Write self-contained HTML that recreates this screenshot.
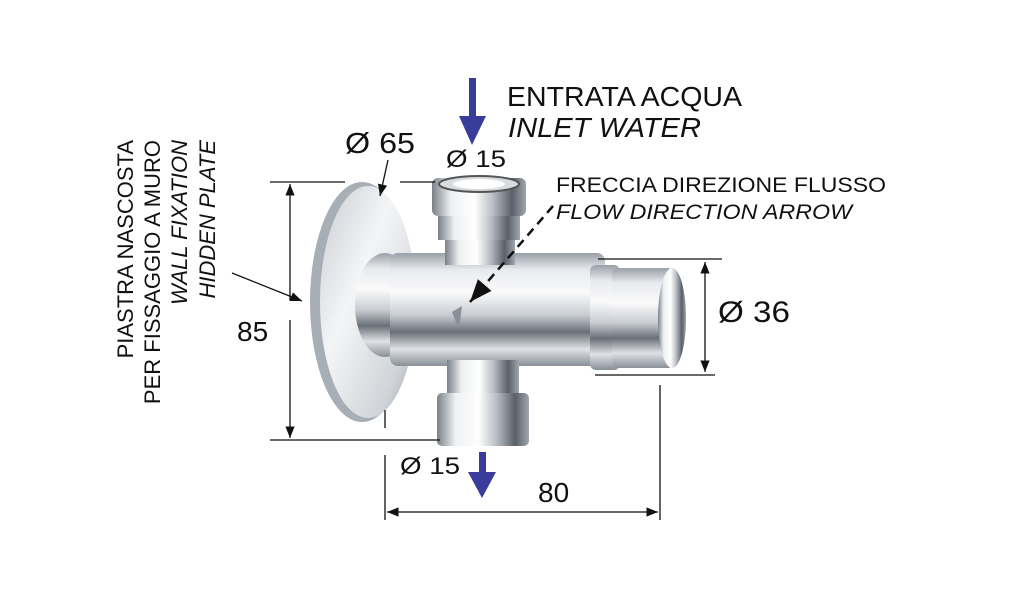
<!DOCTYPE html>
<html><head><meta charset="utf-8"><style>html,body{margin:0;padding:0;background:#fff}svg{display:block}text{font-family:"Liberation Sans",Arial,sans-serif;fill:#111}</style></head>
<body>
<svg width="1014" height="600" viewBox="0 0 1014 600" xmlns="http://www.w3.org/2000/svg">
<defs>
<linearGradient id="gv" x1="0" y1="0" x2="0" y2="1">
<stop offset="0" stop-color="#9aa0a8"/><stop offset=".15" stop-color="#e8eaee"/><stop offset=".35" stop-color="#fafafa"/><stop offset=".55" stop-color="#c8ccd2"/><stop offset=".7" stop-color="#6a7078"/><stop offset=".85" stop-color="#dfe2e6"/><stop offset="1" stop-color="#8a9098"/></linearGradient>
<linearGradient id="gh" x1="0" y1="0" x2="1" y2="0">
<stop offset="0" stop-color="#7a8088"/><stop offset=".2" stop-color="#eef0f2"/><stop offset=".45" stop-color="#ffffff"/><stop offset=".65" stop-color="#b8bcc2"/><stop offset=".85" stop-color="#5a6068"/><stop offset="1" stop-color="#a0a6ae"/></linearGradient>
<linearGradient id="gd" x1="0" y1="0" x2="1" y2="1">
<stop offset="0" stop-color="#c8ccd2"/><stop offset=".4" stop-color="#f4f5f7"/><stop offset=".8" stop-color="#d0d4d8"/><stop offset="1" stop-color="#9aa0a8"/></linearGradient>
<marker id="a" viewBox="0 0 10 10" refX="10" refY="5" markerWidth="9" markerHeight="9" orient="auto-start-reverse"><path d="M0,1 L10,5 L0,9 z" fill="#111"/></marker>
</defs>

<ellipse cx="362" cy="302" rx="52" ry="120" fill="#a8aeb6"/>
<ellipse cx="368" cy="302" rx="48" ry="116" fill="url(#gd)"/>
<ellipse cx="385" cy="305" rx="30" ry="52" fill="url(#gv)"/>
<rect x="390" y="253" width="215" height="113" rx="8" fill="url(#gv)"/>
<rect x="445" y="235" width="70" height="30" fill="url(#gh)"/>
<rect x="438" y="210" width="82" height="30" fill="url(#gh)"/>
<rect x="432" y="178" width="94" height="38" rx="6" fill="url(#gh)"/>
<ellipse cx="479" cy="184" rx="40" ry="8" fill="#d8dbe0" stroke="#555" stroke-width="2"/>
<ellipse cx="479" cy="184" rx="26" ry="5" fill="#fff"/>
<rect x="447" y="360" width="72" height="35" fill="url(#gh)"/>
<rect x="437" y="393" width="92" height="53" rx="5" fill="url(#gh)"/>
<path d="M452,312 L462,306 L459,330 z" fill="#8a9098"/>
<rect x="590" y="265" width="30" height="105" rx="6" fill="url(#gv)"/>
<rect x="612" y="268" width="62" height="100" rx="6" fill="url(#gv)"/>
<ellipse cx="672" cy="318" rx="14" ry="50" fill="url(#gh)"/>

<g stroke="#111" stroke-width="1.3" fill="none">
<line x1="270" y1="182" x2="345" y2="182"/><line x1="400" y1="182" x2="435" y2="182"/>
<line x1="270" y1="440" x2="440" y2="440"/>
<line x1="290" y1="184" x2="290" y2="300" marker-start="url(#a)"/>
<line x1="290" y1="320" x2="290" y2="438" marker-end="url(#a)"/>
<line x1="232" y1="273" x2="302" y2="301" marker-end="url(#a)"/>
<line x1="388" y1="160" x2="380" y2="196" marker-end="url(#a)"/>
<line x1="598" y1="259" x2="722" y2="259"/><line x1="595" y1="375" x2="715" y2="375"/>
<line x1="705" y1="262" x2="705" y2="372" marker-start="url(#a)" marker-end="url(#a)"/>
<line x1="385" y1="410" x2="385" y2="428"/><line x1="385" y1="455" x2="385" y2="520"/>
<line x1="660" y1="385" x2="660" y2="520"/>
<line x1="387" y1="512" x2="658" y2="512" marker-start="url(#a)" marker-end="url(#a)"/>
<line x1="553" y1="206" x2="470" y2="302" stroke-width="2.5" stroke-dasharray="9,6" marker-end="url(#a)"/>
</g>

<g fill="#3a3c9c">
<rect x="469" y="78" width="7" height="40"/><path d="M459,116 L486,116 L472,145 z"/>
<rect x="479" y="452" width="7" height="22"/><path d="M468,472 L496,472 L482,498 z"/>
</g>

<g>
<text x="507" y="106" font-size="28" textLength="235" lengthAdjust="spacingAndGlyphs">ENTRATA ACQUA</text>
<text x="508" y="137" font-size="28" font-style="italic" textLength="193" lengthAdjust="spacingAndGlyphs">INLET  WATER</text>
<text x="345" y="153" font-size="29" textLength="70" lengthAdjust="spacingAndGlyphs">Ø 65</text>
<text x="446" y="167" font-size="24" textLength="60" lengthAdjust="spacingAndGlyphs">Ø 15</text>
<text x="556" y="192" font-size="21" textLength="330" lengthAdjust="spacingAndGlyphs">FRECCIA DIREZIONE FLUSSO</text>
<text x="556" y="219" font-size="21" font-style="italic" textLength="296" lengthAdjust="spacingAndGlyphs">FLOW DIRECTION ARROW</text>
<text x="718" y="322" font-size="30" textLength="72" lengthAdjust="spacingAndGlyphs">Ø 36</text>
<text x="237" y="341" font-size="28">85</text>
<text x="400" y="474" font-size="24" textLength="60" lengthAdjust="spacingAndGlyphs">Ø 15</text>
<text x="538" y="502" font-size="28">80</text>
</g>
<g font-size="22">
<text transform="translate(133,140) rotate(-90)" text-anchor="end">PIASTRA NASCOSTA</text>
<text transform="translate(160,140) rotate(-90)" text-anchor="end">PER FISSAGGIO A MURO</text>
<text transform="translate(187,140) rotate(-90)" text-anchor="end" font-style="italic">WALL FIXATION</text>
<text transform="translate(215,140) rotate(-90)" text-anchor="end" font-style="italic">HIDDEN PLATE</text>
</g>
</svg>
</body></html>
